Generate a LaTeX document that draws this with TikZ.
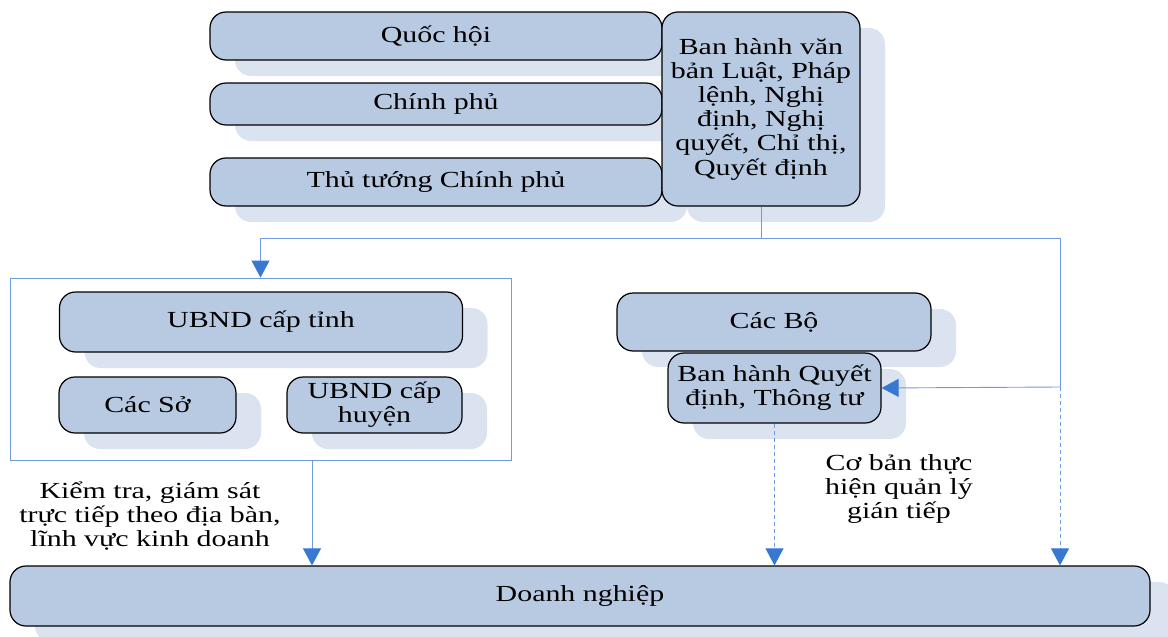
\documentclass[tikz,border=0pt]{standalone}
\usepackage{fontspec}
\setmainfont{Liberation Serif}[FakeStretch=1.3]
\usetikzlibrary{arrows.meta,shadows}

\definecolor{boxfill}{RGB}{184,201,226}
\definecolor{shadowfill}{RGB}{219,227,241}
\definecolor{linkblue}{RGB}{110,155,225}
\definecolor{tipblue}{RGB}{55,120,210}

\begin{document}
\begin{tikzpicture}[x=1pt, y=-1pt,
    font=\fontsize{23}{24.2}\selectfont,
    >={Triangle[width=18pt,length=17pt,color=tipblue]},
    organ/.style={draw=black, line width=1.2pt, fill=boxfill, rounded corners=16pt,
        inner sep=0pt, align=center,
        drop shadow={shadow xshift=25pt, shadow yshift=-16pt, fill=shadowfill, opacity=1}},
    link/.style={draw=linkblue, line width=0.9pt},
    dashlink/.style={link, dash pattern=on 4pt off 3pt},
    note/.style={align=center, inner sep=0pt}]

    \useasboundingbox (0,0) rectangle (1168,637);

    % Central level
    \node[organ, minimum width=452pt, minimum height=48pt] (qh) at (436,36) {Quốc hội};
    \node[organ, minimum width=452pt, minimum height=42pt] (cp) at (436,104) {Chính phủ};
    \node[organ, minimum width=452pt, minimum height=48pt] (ttg) at (436,182) {Thủ tướng Chính phủ};
    \node[organ, minimum width=198pt, minimum height=194pt] (law) at (761,109)
        {Ban hành văn\\bản Luật, Pháp\\lệnh, Nghị\\định, Nghị\\quyết, Chỉ thị,\\Quyết định};

    % Local level (inside the frame)
    \node[link, minimum width=501pt, minimum height=182pt, inner sep=0pt] (frame) at (260.5,369) {};
    \node[organ, minimum width=403pt, minimum height=60pt] (tinh) at (261,322) {UBND cấp tỉnh};
    \node[organ, minimum width=177pt, minimum height=56pt] (so) at (147.5,405) {Các Sở};
    \node[organ, minimum width=175pt, minimum height=56pt] (huyen) at (374.5,405) {UBND cấp\\huyện};

    % Ministries
    \node[organ, minimum width=314pt, minimum height=58pt] (bo) at (774,322) {Các Bộ};
    \node[organ, minimum width=213pt, minimum height=70pt] (dec) at (774.5,388)
        {Ban hành Quyết\\định, Thông tư};

    % Enterprises
    \node[organ, minimum width=1140pt, minimum height=60pt] (firm) at (580,596) {Doanh nghiệp};

    % Labels
    \node[note] (direct) at (150,516) {Kiểm tra, giám sát\\trực tiếp theo địa bàn,\\lĩnh vực kinh doanh};
    \node[note] (indirect) at (899,489) {Cơ bản thực\\hiện quản lý\\gián tiếp};

    % Connectors
    \coordinate (split) at (761,238);
    \coordinate (branch) at (1060,387);
    \coordinate (fout) at (312,460);
    \draw[link] (law.south) -- (split);
    \draw[link, ->] (split) -| (frame.north);
    \draw[link] (split) -| (branch);
    \draw[link, ->] (branch) -- (dec.east);
    \draw[dashlink, ->] (branch) -- (branch |- firm.north);
    \draw[link, ->] (fout) -- (fout |- firm.north);
    \draw[dashlink, ->] (dec.south) -- (dec.south |- firm.north);
\end{tikzpicture}
\end{document}
